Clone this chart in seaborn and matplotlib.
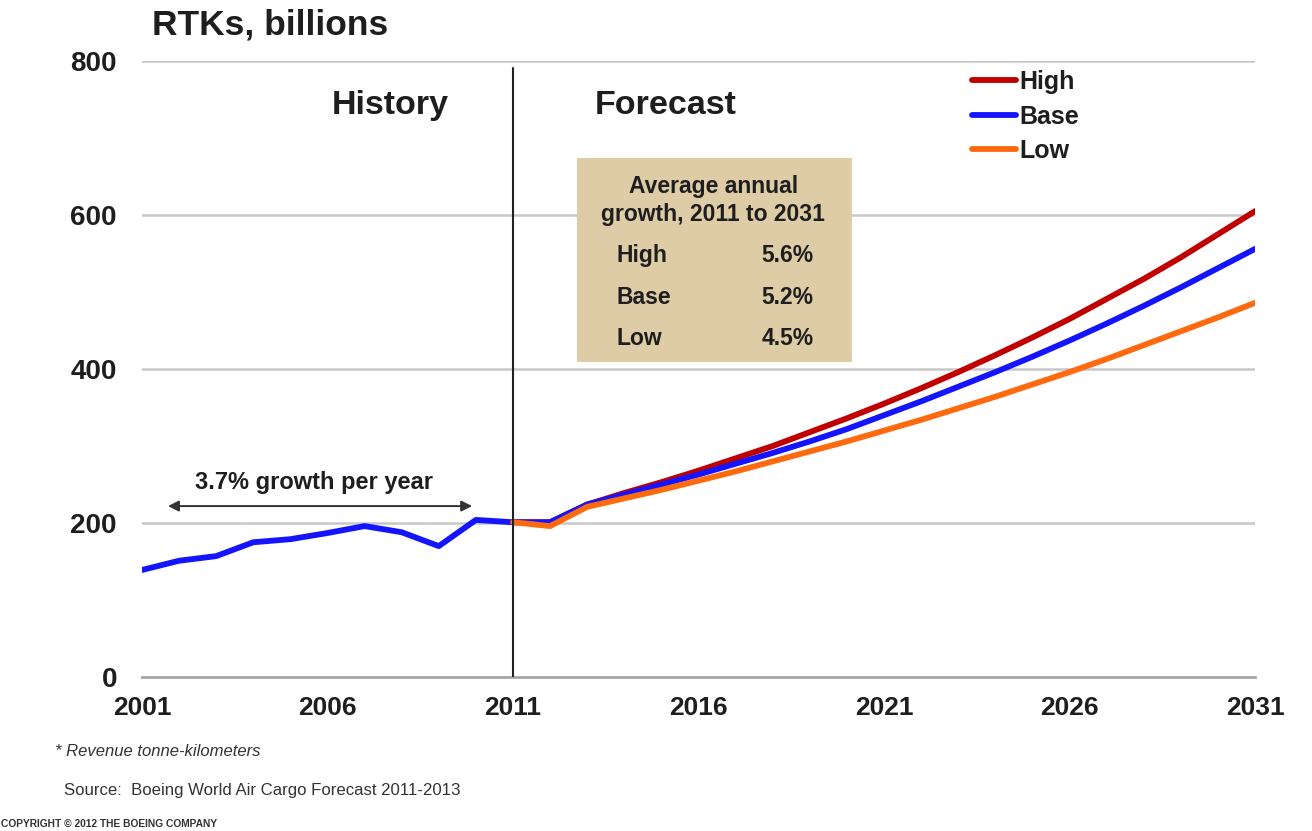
import matplotlib
matplotlib.use("Agg")
import matplotlib.pyplot as plt
import seaborn as sns
import pandas as pd
from matplotlib.lines import Line2D
from matplotlib.patches import FancyBboxPatch

# RTKs (billions), history 2001-2011
hist_years = list(range(2001, 2012))
hist_values = [139, 151, 157, 175, 179, 187, 196, 188, 170, 204, 201]

# Forecast scenarios 2011-2031
fc_years = list(range(2011, 2032))
high_values = [201, 201, 224, 239, 253, 268, 284, 300, 318, 336, 355,
               375, 396, 418, 441, 465, 491, 517, 545, 575, 605]
base_values = [201, 201, 224, 237, 250, 263, 277, 291, 306, 322, 340,
               358, 377, 396, 416, 437, 459, 482, 506, 531, 556]
low_values = [201, 196, 221, 232, 243, 255, 267, 280, 293, 306, 320,
              334, 349, 364, 380, 396, 413, 431, 449, 467, 486]

scenarios = ["High", "Base", "Low"]
growth_rates = ["5.6%", "5.2%", "4.5%"]
x_ticks = [2001, 2006, 2011, 2016, 2021, 2026, 2031]
y_ticks = [0, 200, 400, 600, 800]

colors = {"High": "#C00000", "Base": "#1414FF", "Low": "#FF6A0E"}
text_color = "#1E1E1E"

sns.set_theme(style="white")
plt.rcParams["font.family"] = ["Liberation Sans", "DejaVu Sans"]

fig = plt.figure(figsize=(13.12, 8.31), dpi=100)
ax = fig.add_axes([0.1082, 0.1853, 0.8484, 0.7413])

hist_df = pd.DataFrame({"year": hist_years, "rtk": hist_values})
fc_df = pd.DataFrame({
    "year": fc_years * 3,
    "rtk": high_values + base_values + low_values,
    "scenario": ["High"] * len(fc_years) + ["Base"] * len(fc_years) + ["Low"] * len(fc_years),
})

sns.lineplot(data=hist_df, x="year", y="rtk", color=colors["Base"], lw=4.2,
             ax=ax, legend=False, zorder=3)
sns.lineplot(data=fc_df, x="year", y="rtk", hue="scenario", hue_order=scenarios,
             palette=colors, lw=4.2, ax=ax, legend=False, zorder=3)

ax.set_xlim(2001, 2031)
ax.set_ylim(0, 800)
ax.set_xticks(x_ticks)
ax.set_yticks(y_ticks)
ax.set_xticklabels([str(t) for t in x_ticks], fontsize=19, fontweight="bold", color=text_color)
ax.set_yticklabels([str(t) for t in y_ticks], fontsize=20, fontweight="bold", color=text_color)
ax.tick_params(axis="x", length=0, pad=14)
ax.tick_params(axis="y", length=0, pad=18)
ax.set_xlabel("")
ax.set_ylabel("")
for s in ["left", "right", "top"]:
    ax.spines[s].set_visible(False)
ax.spines["bottom"].set_color("#A6A6A6")
ax.spines["bottom"].set_linewidth(2)

for yv in y_ticks[1:]:
    ax.axhline(yv, color="#C8C8C8", lw=1.8, zorder=1)

# History / forecast divider
ax.plot([2011, 2011], [0, 791], color="#202020", lw=1.5, zorder=4)
ax.text(2007.68, 742, "History", ha="center", va="center", fontsize=24.5,
        fontweight="bold", color=text_color)
ax.text(2015.12, 742, "Forecast", ha="center", va="center", fontsize=24.5,
        fontweight="bold", color=text_color)

# Growth arrow across the history period
ax.annotate("", xy=(2001.7, 222), xytext=(2009.9, 222),
            arrowprops=dict(arrowstyle="<|-|>", color="#333333", lw=1.4,
                            mutation_scale=16, shrinkA=0, shrinkB=0))
ax.text(2005.64, 253, "3.7% growth per year", ha="center", va="center",
        fontsize=17, fontweight="bold", color=text_color)

# Average growth box
box = FancyBboxPatch((2012.73, 409), 7.4, 265, boxstyle="square,pad=0",
                     facecolor="#DDCCA6", edgecolor="none", zorder=5)
ax.add_patch(box)
ax.text(2016.4, 637, "Average annual", ha="center", va="center", fontsize=16.5,
        fontweight="bold", color=text_color, zorder=6)
ax.text(2016.4, 601, "growth, 2011 to 2031", ha="center", va="center", fontsize=16.5,
        fontweight="bold", color=text_color, zorder=6)
for i, (name, rate) in enumerate(zip(scenarios, growth_rates)):
    yy = 547 - i * 54
    ax.text(2013.8, yy, name, ha="left", va="center", fontsize=16.5,
            fontweight="bold", color=text_color, zorder=6)
    ax.text(2019.1, yy, rate, ha="right", va="center", fontsize=16.5,
            fontweight="bold", color=text_color, zorder=6)

# Scenario legend
handles = [Line2D([0], [0], color=colors[s], lw=4.2, solid_capstyle="round") for s in scenarios]
leg = ax.legend(handles, scenarios, loc="upper left", bbox_to_anchor=(0.746, 0.985),
                frameon=False, borderpad=0, borderaxespad=0, handlelength=1.75,
                handletextpad=0.12, labelspacing=0.42,
                prop={"size": 18, "weight": "bold"})
for t in leg.get_texts():
    t.set_color(text_color)

# Title and footnotes
fig.text(152 / 1312, 1 - 25 / 831, "RTKs, billions", ha="left", va="center",
         fontsize=25.5, fontweight="bold", color=text_color)
fig.text(55 / 1312, 1 - 752 / 831, "* Revenue tonne-kilometers", ha="left", va="center",
         fontsize=12, style="italic", color="#333333")
fig.text(64 / 1312, 1 - 790 / 831, "Source:  Boeing World Air Cargo Forecast 2011-2013",
         ha="left", va="center", fontsize=12.1, color="#333333")
fig.text(1 / 1312, 1 - 824 / 831, "COPYRIGHT \u00a9 2012 THE BOEING COMPANY", ha="left",
         va="center", fontsize=7.4, fontweight="bold", color="#333333")

fig.savefig("out.png", dpi=100)
